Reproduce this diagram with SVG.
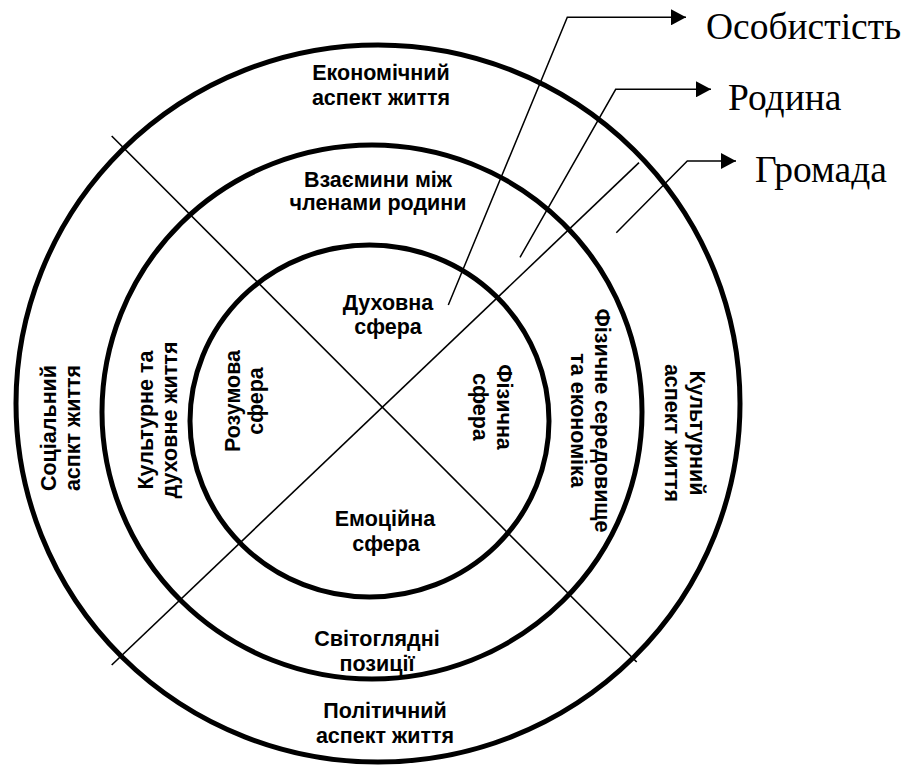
<svg xmlns="http://www.w3.org/2000/svg" width="908" height="772" viewBox="0 0 908 772">
  <defs>
    <marker id="arrow" viewBox="0 0 15 16" refX="15" refY="8" markerWidth="15" markerHeight="16" markerUnits="userSpaceOnUse" orient="auto">
      <path d="M0,0 L15,8 L0,16 z" fill="#000"/>
    </marker>
  </defs>
  <style>
    .ring { fill: none; stroke: #000; stroke-width: 5; }
    .div { stroke: #000; stroke-width: 1.6; fill: none; }
    .lead { stroke: #000; stroke-width: 1.5; fill: none; marker-end: url(#arrow); }
    .lbl { font-family: "Liberation Sans", Arial, sans-serif; font-weight: bold; font-size: 21.5px; fill: #000; text-anchor: middle; }
    .cap { font-family: "Liberation Serif", "Times New Roman", serif; font-size: 37.5px; fill: #000; }
  </style>
  <rect width="908" height="772" fill="#fff"/>

  <g id="rings">
    <ellipse id="outer-ring" class="ring" cx="378" cy="403.5" rx="362" ry="358.5"/>
    <ellipse id="middle-ring" class="ring" cx="372" cy="412" rx="270" ry="267"/>
    <ellipse id="inner-ring" class="ring" cx="369.5" cy="421" rx="179.5" ry="176"/>
  </g>

  <g id="connectors">
    <line class="div" x1="111.7" y1="136" x2="636.7" y2="662"/>
    <line class="div" x1="111.7" y1="665" x2="639" y2="162.7"/>
    <polyline class="lead" points="448.3,305 567.3,17.3 686,17.3"/>
    <polyline class="lead" points="520,257.3 615.7,89.3 711,89.3"/>
    <polyline class="lead" points="616.3,232.8 687.3,161 736,161"/>
  </g>

  <g id="node-osobystist"><text class="cap" x="706" y="39">Особистість</text></g>
  <g id="node-rodyna"><text class="cap" x="728" y="110">Родина</text></g>
  <g id="node-hromada"><text class="cap" x="755" y="181.7">Громада</text></g>

  <g id="node-economic">
    <text class="lbl" x="381" y="80">Економічний</text>
    <text class="lbl" x="381" y="105">аспект життя</text>
  </g>
  <g id="node-relations">
    <text class="lbl" x="378" y="187">Взаємини між</text>
    <text class="lbl" x="378" y="210">членами родини</text>
  </g>
  <g id="node-spiritual">
    <text class="lbl" x="388" y="310">Духовна</text>
    <text class="lbl" x="388" y="334">сфера</text>
  </g>
  <g id="node-emotional">
    <text class="lbl" x="385" y="526">Емоційна</text>
    <text class="lbl" x="386" y="551">сфера</text>
  </g>
  <g id="node-worldview">
    <text class="lbl" x="377" y="646">Світоглядні</text>
    <text class="lbl" x="377" y="671">позиції</text>
  </g>
  <g id="node-political">
    <text class="lbl" x="385" y="718">Політичний</text>
    <text class="lbl" x="385" y="743">аспект життя</text>
  </g>

  <g id="node-social" transform="rotate(-90)">
    <text class="lbl" x="-428" y="56">Соціальний</text>
    <text class="lbl" x="-428" y="80">аспкт життя</text>
  </g>
  <g id="node-cultural-spiritual" transform="rotate(-90)">
    <text class="lbl" x="-420" y="153">Культурне та</text>
    <text class="lbl" x="-420" y="177">духовне життя</text>
  </g>
  <g id="node-mental" transform="rotate(-90)">
    <text class="lbl" x="-401" y="240">Розумова</text>
    <text class="lbl" x="-401" y="263">сфера</text>
  </g>

  <g id="node-physical" transform="rotate(90)">
    <text class="lbl" x="407" y="-497">Фізична</text>
    <text class="lbl" x="407" y="-473">сфера</text>
  </g>
  <g id="node-environment" transform="rotate(90)">
    <text class="lbl" x="420.5" y="-595">Фізичне середовище</text>
    <text class="lbl" x="420.5" y="-571">та економіка</text>
  </g>
  <g id="node-cultural" transform="rotate(90)">
    <text class="lbl" x="433" y="-690">Культурний</text>
    <text class="lbl" x="433" y="-665">аспект життя</text>
  </g>
</svg>
